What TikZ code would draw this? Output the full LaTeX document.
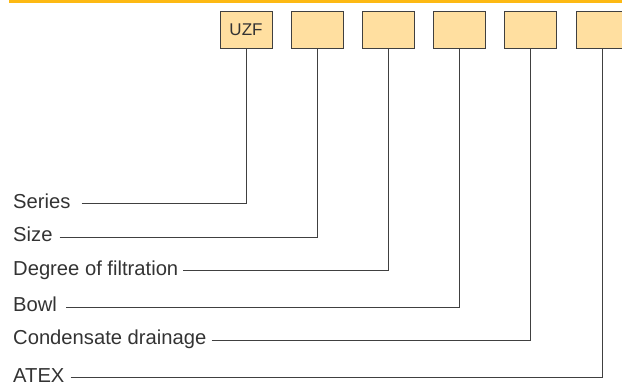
\documentclass[tikz,border=0pt]{standalone}
\usepackage{fontspec}
\setmainfont{Liberation Sans}
\usetikzlibrary{positioning}
\definecolor{codefill}{HTML}{FFDFA0}
\definecolor{barorange}{HTML}{FDB913}
\definecolor{linegray}{HTML}{404040}

\begin{document}
\begin{tikzpicture}[x=1pt, y=-1pt,
    codebox/.style={rectangle, draw=linegray, fill=codefill, line width=0.9pt, minimum width=52pt, minimum height=37pt, inner sep=0pt, font=\fontsize{17}{20}\selectfont, text=black!80},
    feature/.style={anchor=base west, inner sep=0pt, font=\fontsize{20.2}{24}\selectfont, text=black!80},
    link/.style={draw=linegray, line width=0.9pt}
]
\useasboundingbox (0,0) rectangle (622,381);
\fill[barorange] (9,0) rectangle (622,2.7);

\node[codebox] (series) at (246,30) {UZF};
\node[codebox, right=18.3pt of series] (size) {};
\node[codebox, right=18.3pt of size] (degree) {};
\node[codebox, right=18.3pt of degree] (bowl) {};
\node[codebox, right=18.3pt of bowl] (drain) {};
\node[codebox, right=18.3pt of drain] (atex) {};

\node[feature] (l_series) at (13,208) {Series};
\node[feature] (l_size) at (13,241.5) {Size};
\node[feature] (l_degree) at (13,275) {Degree of filtration};
\node[feature] (l_bowl) at (13,311.5) {Bowl};
\node[feature] (l_drain) at (13,344.8) {Condensate drainage};
\node[feature] (l_atex) at (13,382) {ATEX};

\foreach \dest/\gap in {series/11, size/7, degree/5, bowl/9, drain/5, atex/6}
    \draw[link] ([shift={(\gap pt,4.5pt)}]l_\dest.base east) -| (\dest.south);

\end{tikzpicture}
\end{document}
